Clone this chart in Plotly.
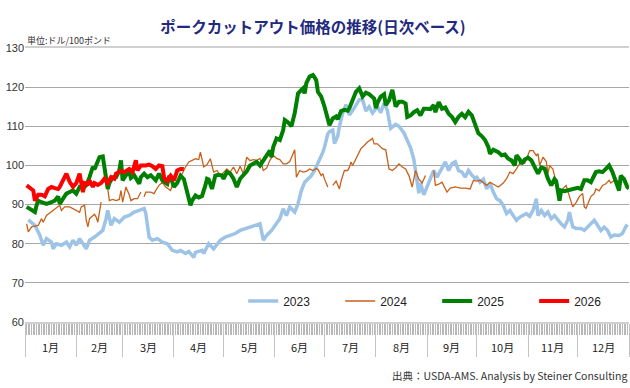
import plotly.graph_objects as go

# ---- data (day of year, price $/100lb) ----
days_2023 = [2,6,9,11,13,16,17,19,22,25,27,29,31,33,37,39,42,45,47,49,50,52,54,57,60,63,66,69,72,73,75,77,80,83,86,89,92,94,97,99,102,103,107,108,111,114,118,121,124,127,130,133,136,139,142,144,146,149,152,154,156,158,160,163,165,167,169,171,173,175,177,179,180,181,182,183,184,186,187,189,190,192,194,196,198,200,202,204,206,208,210,213,215,217,219,220,221,224,226,229,231,233,235,237,238,239,241,243,245,247,249,251,254,256,258,260,262,264,266,268,270,272,273,275,277,279,281,283,285,287,289,291,293,295,297,299,301,303,305,307,309,310,312,314,316,318,320,322,324,326,328,329,331,333,336,338,342,344,346,348,350,352,354,356,359,361,363,364]
price_2023 = [86.1,84.7,82.1,79.6,81.3,80.4,78.7,80,79.6,80.4,79.2,80.9,79.6,81.3,78.7,80.9,81.7,82.6,83.4,86.4,88.5,84.7,86.4,85.5,86.8,87.2,88.1,88.5,89,87.7,81.7,80.9,81.3,80.4,80,78.3,77.9,78.3,77.5,78.0,76.5,77.8,78.3,77.5,80,78.7,80.9,81.7,82.1,82.6,83.4,83.8,84.3,84.7,85.1,80.9,82.1,83.4,85.1,86.4,88.9,87.2,89.4,88.1,90.2,93.6,95.7,96.6,97.4,98.7,100.4,102.1,103.4,104.7,106.9,108.1,108.6,109,105.6,107.5,110,113.4,115.5,112.9,114,115.5,116.8,116.8,113.9,115,113.4,115,113.5,115.9,114,111.6,109.5,110.5,110,108.3,106.6,104.5,101.5,96.4,92.9,95.5,92.5,94.6,96.4,98.7,97,98.7,100.9,98.7,100.4,100.9,98.7,98.3,97,98.7,97.5,96.7,97,95.7,96.5,94,95.5,93.2,91.5,91,89.8,87.7,88.5,87.2,86,86.8,87.2,87.7,87,88.5,91.5,87.2,88.5,87.2,88.1,86.4,87.2,86,85.1,84.3,86,88.1,84.3,83.9,83.9,83.4,85.1,86,84.7,83.4,84.2,83.4,81.7,82.2,82.1,82.6,84.3,84.9]

days_2024 = [1,2,4,6,8,10,11,13,15,17,19,21,22,24,27,29,31,33,34,36,37,38,39,42,43,44,46,47,
             50,51,53,55,57,58,59,61,63,64,66,68,70,71,
             72,73,76,78,79,81,83,85,88,89,90,92,95,97,99,101,103,105,106,108,110,112,114,116,118,120,122,124,126,128,130,132,134,136,138,140,142,144,146,148,150,152,154,156,158,160,163,164,166,168,170,172,174,176,177,179,180,181,183,184,
             186,188,190,191,193,195,196,197,198,201,203,205,207,210,211,213,216,218,220,222,224,226,228,230,232,234,236,238,240,242,244,
             247,248,250,252,255,257,260,263,266,269,271,273,275,277,279,281,284,286,289,291,293,295,297,299,302,304,305,307,309,310,311,313,315,316,317,319,321,323,325,327,329,331,333,335,337,338,339,342,344,345,347,349,351,353,354,357,359,361]
price_2024 = [85.1,83,84.3,84.5,84.7,86.4,85.5,87.2,87.8,88.5,89,89.8,88.5,89.4,89.4,89,88.5,88.0,89.4,89.8,86,84.3,86.4,87.5,86.8,85.5,90.6,None,
              94,91,91.3,91,91.3,93.6,90.6,94.5,92.5,91,91.5,91.5,93.2,None,
              92,93.2,93.2,92.8,93.6,94.9,95.7,94.5,93.6,95,94.9,96.2,97.9,99.6,100.9,101.3,101.7,101.5,103.4,99.6,100.2,101.7,98.3,98.7,97.4,98.2,99.1,98.3,99.6,97.9,99.8,97.9,102.1,101.2,101.5,101.3,101.8,98.7,99.3,101.3,102.6,101.8,101.5,100.4,100.4,101,104,97,98.7,98.3,98.5,99.1,98.7,99.2,99,97.4,97.9,96.5,94.5,None,
              94.9,96,94,96,98.7,98.7,99.5,100.9,100,102.6,104.3,105.1,106,106.9,105.5,105.5,104.3,104,99.1,98.7,99.4,100.4,99.6,99.1,97.4,94.5,98.7,96.5,95.5,97.4,None,
              98.7,94.9,95.2,95.7,93.2,94.2,94.5,94.2,94.2,94,96.2,96,96.2,95.5,94.9,95.7,95,94.5,95.5,96.6,98.3,97.9,99.1,100.5,100.5,102.6,103.8,103.8,102.5,103,100,102.1,101,97.9,100,99.1,95.5,92.1,94,94.9,92.1,89.4,90.5,92.1,92.8,89.4,89,92.1,92.8,94,93.5,94.9,95.3,96.2,95.5,96.5,95.5,95.7]

days_2025 = [1,4,6,7,8,10,13,16,18,20,21,23,25,27,29,31,33,35,37,39,41,42,44,45,47,48,49,50,51,53,55,57,58,59,61,63,64,66,69,70,72,74,76,79,81,83,86,87,88,90,92,94,96,98,99,100,101,103,105,107,109,110,111,113,115,117,119,120,122,124,126,128,130,132,134,136,138,140,142,144,146,148,149,150,152,154,156,157,159,161,163,164,165,167,168,169,170,172,174,175,176,177,179,181,183,184,186,188,189,191,193,195,196,198,200,202,203,204,206,208,211,212,213,215,217,218,220,222,224,226,228,230,231,233,235,237,239,241,243,245,247,248,250,252,254,256,258,260,262,264,266,268,270,272,274,276,278,280,281,283,285,286,288,290,292,294,296,297,299,300,302,304,306,308,310,312,314,316,318,320,321,323,324,326,328,330,332,334,336,338,340,342,343,345,347,349,351,353,355,357,359,360,362,364,365]
price_2025 = [89.4,88.5,88.1,89.8,91,90.6,90.2,90.6,91,92.1,90.2,91.5,92.8,93.2,93.6,92.8,94.5,94.2,94.9,97,99.6,99,101.3,102.1,102.3,99.6,96.2,94,95.5,97,97,98.7,101.3,96.2,97.5,98.3,96.8,97.5,95.3,97,97.9,97,97.5,96.2,97.9,96.2,95.3,97,97,94.5,95.5,97.4,96.5,92.8,91,89.8,91,92.3,91.8,92.2,94.9,96.6,96.4,94,97.4,97.6,97.4,96.6,98.3,97.9,96.6,94.5,96.6,97.4,98.5,100,100.4,100.9,100,101.3,102.6,103.8,102.1,104.7,106.9,106.5,109,111.6,111,110,113.4,116.3,118.4,119.3,119.7,118.4,121,122.7,123.1,122.5,121.8,118.8,117.6,115,111.2,110.3,112,112.5,111.8,113.9,114.2,114.0,114.6,116.7,118.8,119.7,118.5,117.6,118.6,118.2,117.1,114.6,116,117.6,118.2,115.4,116.6,119.3,115,116.3,116.3,115.8,112.4,112.8,113.6,114.1,112.8,114.5,114.5,114.4,115.4,113.6,116.2,114.5,114.8,113.2,112.4,111.1,112.4,113.2,112.3,113.7,112.8,110.7,108.2,107.5,106.5,104.7,103,104,103.5,103.4,102.6,102.8,101.7,101.3,100,102.6,101.5,100.4,101.5,102,101.3,99.6,97.9,99.5,99.2,96.6,94.9,96.5,96,91,93.6,93.4,93.6,94,94,94.3,94,96.2,96.2,95.7,96.6,98.3,98.5,98.3,99.1,100,98.3,95.7,93.6,97.4,96.5,94.5,94.1]

days_2026 = [1,3,5,6,8,10,12,14,16,18,20,21,23,25,27,29,31,33,35,36,38,39,41,42,44,46,48,50,52,54,55,57,58,60,63,65,67,68,70,73,75,77,79,81,83,84,86,87,88,90,92,94,96]
price_2026 = [94.9,94.2,93.6,91,92.5,92.5,92.1,94,94.5,94.2,94,94.5,96.2,97.9,95.8,94.5,95.5,97.9,93.2,95.5,95.3,96.2,94.5,95.5,95,95.5,96.6,95.5,97,96.6,97.9,98.3,98.6,98.3,99.1,98.3,101.3,98.7,100,100,100.2,99.8,99.1,100,99.8,97,95.7,96.8,97.4,96.2,98.7,99.1,99.1]

month_starts = [0,31,59,90,120,151,181,212,243,273,304,334,365]
month_labels = ["1月","2月","3月","4月","5月","6月","7月","8月","9月","10月","11月","12月"]
y_ticks = [60,70,80,90,100,110,120,130]

series = [
    ("2023", days_2023, price_2023, "#9DC3E6", 3.5),
    ("2024", days_2024, price_2024, "#C8601A", 1.3),
    ("2025", days_2025, price_2025, "#008000", 4),
    ("2026", days_2026, price_2026, "#FF0000", 4),
]

fig = go.Figure()
for name, xs, ys, color, w in series:
    fig.add_trace(go.Scatter(x=xs, y=ys, mode="lines", name=name,
                             line=dict(color=color, width=w), connectgaps=False))

JP = "Noto Sans CJK JP"
LAT = "Liberation Sans, Arial, sans-serif"

fig.update_layout(
    width=630, height=388,
    margin=dict(l=25, r=1, t=48, b=66, autoexpand=False),
    paper_bgcolor="white", plot_bgcolor="white",
    title=dict(text="<b>ポークカットアウト価格の推移(日次ベース)</b>",
               font=dict(family=JP, size=15.5, color="#1F2A80"),
               x=313/630, xref="container", xanchor="center",
               y=1 - 28/388, yref="container", yanchor="middle"),
    legend=dict(orientation="h", x=(243 - 25)/603.5, xanchor="left",
                y=21/274, yanchor="middle",
                font=dict(family=LAT, size=12, color="#222"),
                entrywidth=52, entrywidthmode="pixels",
                bgcolor="rgba(0,0,0,0)", tracegroupgap=0),
    showlegend=True,
)

fig.update_xaxes(
    range=[0, 365], tickmode="array", tickvals=month_starts,
    ticktext=[""] * len(month_starts),
    ticks="outside", ticklen=33, tickcolor="#C4C4C4", tickwidth=1,
    showgrid=False, zeroline=False,
    showline=True, linecolor="#D0D0D0", linewidth=2, mirror=True,
    minor=dict(tickmode="linear", tick0=0, dtick=1, ticks="outside", ticklen=11,
               tickcolor="#B8B8B8", tickwidth=1, showgrid=False),
)
fig.update_yaxes(
    range=[60, 130], tickmode="array", tickvals=y_ticks,
    ticks="", showgrid=True, gridcolor="#A8A8A8", gridwidth=1,
    zeroline=False, showline=False,
    tickfont=dict(family=LAT, size=11, color="#333"),
)

# month labels
for i, lab in enumerate(month_labels):
    mid = (month_starts[i] + month_starts[i + 1]) / 2
    fig.add_annotation(x=mid, y=-25/274, xref="x", yref="paper", text=lab,
                       showarrow=False, yanchor="middle",
                       font=dict(family=JP, size=11, color="#222"))

fig.add_annotation(x=0, y=1 + 7/274, xref="paper", yref="paper", text="単位:ドル/100ポンド",
                   showarrow=False, xanchor="left", yanchor="middle",
                   font=dict(family=JP, size=9, color="#333"))
fig.add_annotation(x=1, y=-53/274, xref="paper", yref="paper",
                   text="出典：USDA-AMS. Analysis by Steiner Consulting",
                   showarrow=False, xanchor="right", yanchor="middle",
                   font=dict(family=JP, size=10.5, color="#333"))

fig.write_html("out.html",
               config={"displayModeBar": False},
               post_script="document.body.style.margin='0';document.body.style.overflow='hidden';")
